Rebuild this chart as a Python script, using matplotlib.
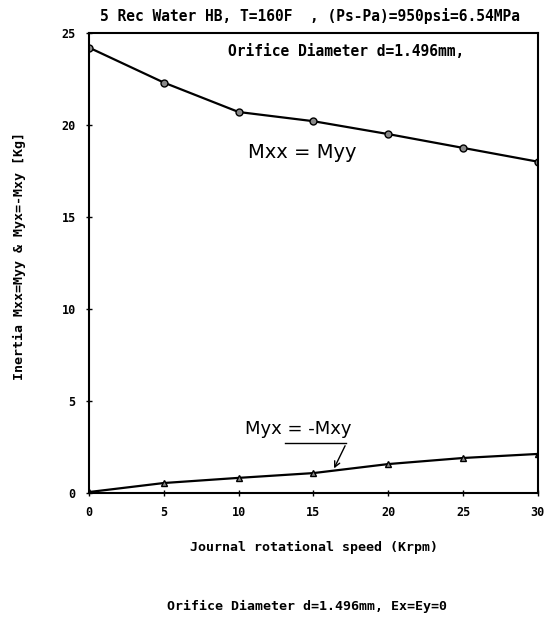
import matplotlib
matplotlib.use('Agg')
import matplotlib.pyplot as plt

# data
speed = [0, 5, 10, 15, 20, 25, 30]
mxx = [24.2, 22.3, 20.7, 20.2, 19.5, 18.75, 18.0]
myx = [0.05, 0.54, 0.82, 1.08, 1.57, 1.9, 2.12]
xticks = [0, 5, 10, 15, 20, 25, 30]
yticks = [0, 5, 10, 15, 20, 25]

mono = {'family': 'DejaVu Sans Mono', 'weight': 'bold'}

fig = plt.figure(figsize=(5.46, 6.32), dpi=100)
ax = fig.add_axes([0.163, 0.22, 0.822, 0.728])

ax.plot(speed, mxx, color='black', lw=1.6, marker='o', ms=5,
        mfc='#888888', mec='black', mew=1)
ax.plot(speed, myx, color='black', lw=1.6, marker='^', ms=4,
        mfc='#888888', mec='black', mew=1)

ax.set_xlim(0, 30)
ax.set_ylim(0, 25)
ax.set_xticks(xticks)
ax.set_yticks(yticks)
ax.set_xticklabels([str(t) for t in xticks], fontdict=mono, fontsize=8.5)
ax.set_yticklabels([str(t) for t in yticks], fontdict=mono, fontsize=8.5)
ax.tick_params(direction='inout', length=5, width=1, pad=7)
for s in ax.spines.values():
    s.set_linewidth(1.5)

ax.text(9.3, 23.75, 'Orifice Diameter d=1.496mm,', fontdict=mono, fontsize=10.5)
ax.text(10.6, 18.2, 'Mxx = Myy', fontsize=14)
ax.text(10.4, 3.2, 'Myx = -Mxy', fontsize=13)
ax.plot([13.1, 17.2], [2.7, 2.7], color='black', lw=1)
ax.annotate('', xy=(16.3, 1.2), xytext=(17.2, 2.7),
            arrowprops=dict(arrowstyle='->', color='black', lw=1))

fig.text(0.567, 0.975, '5 Rec Water HB, T=160F  , (Ps-Pa)=950psi=6.54MPa',
         ha='center', va='center', fontdict=mono, fontsize=10.5)
fig.text(0.575, 0.134, 'Journal rotational speed (Krpm)',
         ha='center', va='center', fontdict=mono, fontsize=9.5)
fig.text(0.035, 0.595, 'Inertia Mxx=Myy & Myx=-Mxy [Kg]', rotation=90,
         ha='center', va='center', fontdict=mono, fontsize=9.5)
fig.text(0.562, 0.041, 'Orifice Diameter d=1.496mm, Ex=Ey=0',
         ha='center', va='center', fontdict=mono, fontsize=9.5)

fig.savefig('out.png', dpi=100)
